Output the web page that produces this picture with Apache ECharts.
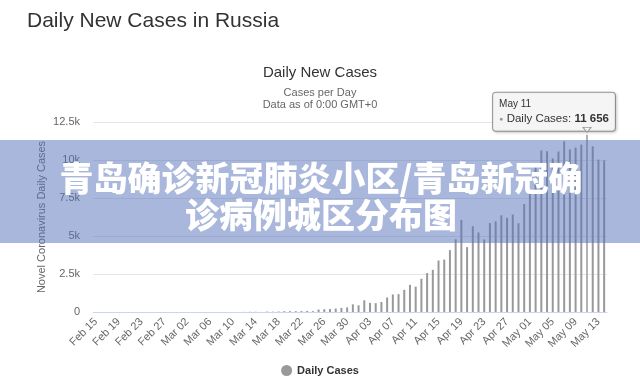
<!DOCTYPE html>
<html>
<head>
<meta charset="utf-8">
<script src="https://cdn.jsdelivr.net/npm/echarts@6/dist/echarts.min.js"></script>
<style>html,body{margin:0;padding:0;background:#fff}#c{width:640px;height:385px}</style>
</head>
<body>
<div id="c"></div>
<script>
// ---- data ----
var categories = [
  "Feb 15","Feb 16","Feb 17","Feb 18","Feb 19","Feb 20","Feb 21","Feb 22","Feb 23","Feb 24","Feb 25","Feb 26","Feb 27","Feb 28","Feb 29",
  "Mar 01","Mar 02","Mar 03","Mar 04","Mar 05","Mar 06","Mar 07","Mar 08","Mar 09","Mar 10","Mar 11","Mar 12","Mar 13","Mar 14","Mar 15","Mar 16",
  "Mar 17","Mar 18","Mar 19","Mar 20","Mar 21","Mar 22","Mar 23","Mar 24","Mar 25","Mar 26","Mar 27","Mar 28","Mar 29","Mar 30","Mar 31",
  "Apr 01","Apr 02","Apr 03","Apr 04","Apr 05","Apr 06","Apr 07","Apr 08","Apr 09","Apr 10","Apr 11","Apr 12","Apr 13","Apr 14","Apr 15",
  "Apr 16","Apr 17","Apr 18","Apr 19","Apr 20","Apr 21","Apr 22","Apr 23","Apr 24","Apr 25","Apr 26","Apr 27","Apr 28","Apr 29","Apr 30",
  "May 01","May 02","May 03","May 04","May 05","May 06","May 07","May 08","May 09","May 10","May 11","May 12","May 13","May 14"
];
var febValues = [0,0,0,0,0,0,0,0,0,0,0,0,0,0,0];
var marValues = [0,1,0,0,1,0,6,0,3,0,3,8,17,14,4,30,21,33,52,54,53,61,71,57,163,182,196,228,270,302,501];
var aprValues = [440,771,601,582,658,954,1154,1175,1459,1786,1667,2186,2558,2774,3388,3448,4070,4785,6060,4268,5642,5236,4774,5849,5966,6361,6198,6411,5841,7099];
var mayValues = [7933,9623,10633,10581,10102,10559,11231,10699,10817,11012,11656,10899,10028,9974];
var dailyCases = febValues.concat(marValues, aprValues, mayValues);
var yTicks = [0, 2500, 5000, 7500, 10000, 12500];
var tooltipDay = "May 11";
var seriesName = "Daily Cases";
var overlayLine1 = "青岛确诊新冠肺炎小区/青岛新冠确";
var overlayLine2 = "诊病例城区分布图";

// ---- chart ----
var FONT = "'Liberation Sans', Arial, Helvetica, sans-serif";
var tipIdx = categories.indexOf(tooltipDay);
function fmtSpace(v){ return String(v).replace(/\B(?=(\d{3})+(?!\d))/g, ' '); }

var seriesData = dailyCases.map(function(v, i){
  if (i !== tipIdx) return v;
  return {
    value: v,
    itemStyle: {color: '#b3b3b3'},
    label: {
      show: true, position: 'top', distance: 4, offset: [-33, 0],
      backgroundColor: 'rgba(247,247,247,0.92)', borderColor: '#9a9a9a', borderWidth: 1, borderRadius: 3,
      padding: [5, 6, 4, 6],
      shadowColor: 'rgba(0,0,0,0.18)', shadowBlur: 3, shadowOffsetX: 1, shadowOffsetY: 1,
      formatter: '{d|' + categories[i] + '}\n{dot|●} {n|' + seriesName + ': }{v|' + fmtSpace(v) + '}',
      rich: {
        d: {fontSize: 10, color: '#333', lineHeight: 13, fontFamily: FONT, align: 'left'},
        dot: {fontSize: 7, color: '#999', lineHeight: 16, fontFamily: FONT, align: 'left'},
        n: {fontSize: 11.5, color: '#333', lineHeight: 16, fontFamily: FONT, align: 'left'},
        v: {fontSize: 11.5, color: '#333', fontWeight: 'bold', lineHeight: 16, fontFamily: FONT, align: 'left'}
      }
    }
  };
});

var chart = echarts.init(document.getElementById('c'), null, {renderer: 'canvas'});
chart.setOption({
  animation: false,
  backgroundColor: '#fff',
  title: [
    {text: 'Daily New Cases in Russia', left: 27, top: 11, padding: 0,
     textStyle: {fontSize: 21, fontWeight: 'normal', color: '#333', fontFamily: FONT}},
    {text: 'Daily New Cases', left: 'center', top: 65, padding: 0,
     textStyle: {fontSize: 15, fontWeight: 'normal', color: '#333', fontFamily: FONT}},
    {text: 'Cases per Day', left: 'center', top: 87, padding: 0,
     textStyle: {fontSize: 11, fontWeight: 'normal', color: '#666', fontFamily: FONT}},
    {text: 'Data as of 0:00 GMT+0', left: 'center', top: 99, padding: 0,
     textStyle: {fontSize: 11, fontWeight: 'normal', color: '#666', fontFamily: FONT}}
  ],
  legend: {
    bottom: 4, left: 'center', icon: 'circle', itemWidth: 11, itemHeight: 11, itemGap: 6,
    textStyle: {fontSize: 11, fontWeight: 'bold', color: '#333', fontFamily: FONT},
    data: [seriesName]
  },
  grid: {left: 93, right: 33, top: 122, bottom: 73, containLabel: false},
  xAxis: {
    type: 'category', data: categories, boundaryGap: true,
    axisLine: {lineStyle: {color: '#ccd6eb'}},
    axisTick: {show: false},
    axisLabel: {interval: 3, rotate: 45, fontSize: 11, color: '#666', fontFamily: FONT, margin: 8}
  },
  yAxis: {
    type: 'value', min: yTicks[0], max: yTicks[yTicks.length - 1], interval: yTicks[1] - yTicks[0],
    name: 'Novel Coronavirus Daily Cases', nameLocation: 'middle', nameGap: 46, nameMoveOverlap: false,
    nameTextStyle: {fontSize: 11, color: '#666', fontFamily: FONT},
    axisLine: {show: false}, axisTick: {show: false},
    axisLabel: {fontSize: 11, color: '#666', fontFamily: FONT, margin: 13,
      formatter: function(v){ return v === 0 ? '0' : (v / 1000) + 'k'; }},
    splitLine: {lineStyle: {color: '#e6e6e6'}}
  },
  series: [{
    name: seriesName, type: 'bar', data: seriesData, barWidth: 2,
    itemStyle: {color: '#999999'},
    markPoint: {
      silent: true, symbol: 'triangle', symbolRotate: 180, symbolSize: [8, 5], symbolOffset: [0, -5],
      itemStyle: {color: 'rgba(247,247,247,0.95)', borderColor: '#9a9a9a', borderWidth: 1},
      label: {show: false},
      data: [{coord: [tipIdx, dailyCases[tipIdx]]}]
    }
  }],
  graphic: [
    {type: 'rect', z: 100, shape: {x: 0, y: 140, width: 640, height: 103},
     style: {fill: 'rgba(81,111,184,0.5)'}},
    {type: 'text', z: 101, style: {text: overlayLine1, x: 321, y: 178, align: 'center', verticalAlign: 'middle',
      fill: '#fff', font: "900 34px 'Noto Sans CJK SC', sans-serif"}},
    {type: 'text', z: 101, style: {text: overlayLine2, x: 321, y: 215, align: 'center', verticalAlign: 'middle',
      fill: '#fff', font: "900 34px 'Noto Sans CJK SC', sans-serif"}}
  ]
});
</script>
</body>
</html>
